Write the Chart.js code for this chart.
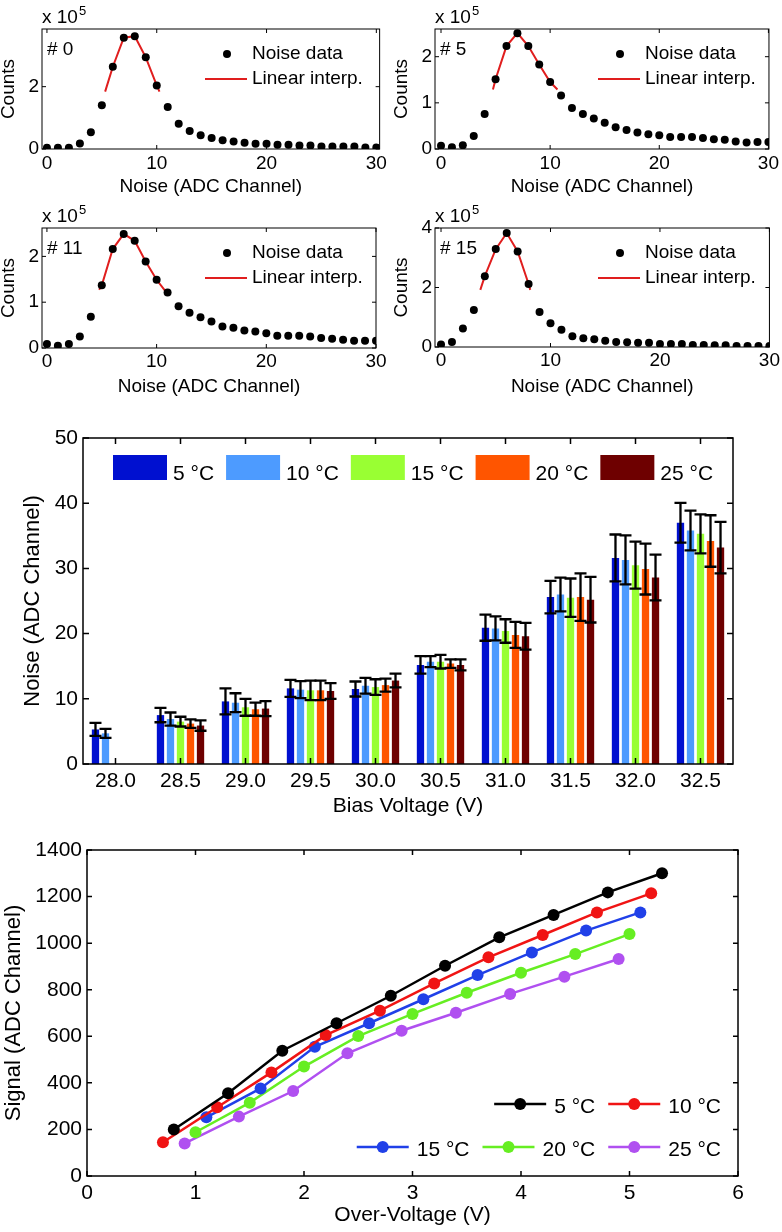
<!DOCTYPE html>
<html>
<head>
<meta charset="utf-8">
<title>SiPM noise and signal</title>
<script src="https://cdn.jsdelivr.net/npm/chart.js@4.4.1/dist/chart.umd.min.js"></script>
<style>
    html, body { margin: 0; padding: 0; background: #fff; }
    body { position: relative; width: 782px; height: 1232px; overflow: hidden; }
    .panel { position: absolute; }
</style>
</head>
<body>
<div class="panel" style="left:0px;top:0px;width:390px;height:198px"><canvas id="hist-0"></canvas></div>
<div class="panel" style="left:393px;top:0px;width:389px;height:198px"><canvas id="hist-5"></canvas></div>
<div class="panel" style="left:0px;top:198px;width:390px;height:202px"><canvas id="hist-11"></canvas></div>
<div class="panel" style="left:393px;top:198px;width:389px;height:202px"><canvas id="hist-15"></canvas></div>
<div class="panel" style="left:0px;top:420px;width:782px;height:400px"><canvas id="noise-chart"></canvas></div>
<div class="panel" style="left:0px;top:820px;width:782px;height:412px"><canvas id="signal-chart"></canvas></div>
<script>
const FONT = '"Liberation Sans", Arial, Helvetica, sans-serif';
Chart.defaults.font.family = FONT;
Chart.defaults.color = '#000';
Chart.defaults.animation = false;

// noise histograms (counts in units of 10^5)
const channels = [0, 1, 2, 3, 4, 5, 6, 7, 8, 9, 10, 11, 12, 13, 14, 15, 16, 17, 18, 19, 20, 21, 22, 23, 24, 25, 26, 27, 28, 29, 30];
const counts0 = [0.04, 0.04, 0.04, 0.18, 0.54, 1.40, 2.64, 3.57, 3.62, 2.94, 2.04, 1.35, 0.81, 0.58, 0.44, 0.35, 0.28, 0.24, 0.20, 0.17, 0.17, 0.14, 0.14, 0.11, 0.11, 0.08, 0.08, 0.08, 0.08, 0.05, 0.05];
const counts5 = [0.07, 0.04, 0.08, 0.28, 0.76, 1.51, 2.23, 2.51, 2.23, 1.83, 1.45, 1.16, 0.89, 0.76, 0.66, 0.57, 0.47, 0.41, 0.36, 0.32, 0.30, 0.26, 0.26, 0.26, 0.24, 0.21, 0.20, 0.16, 0.14, 0.15, 0.15];
const counts11 = [0.09, 0.05, 0.09, 0.25, 0.68, 1.37, 2.16, 2.49, 2.34, 1.89, 1.49, 1.21, 0.91, 0.77, 0.67, 0.58, 0.47, 0.44, 0.38, 0.36, 0.32, 0.27, 0.27, 0.27, 0.25, 0.22, 0.20, 0.18, 0.16, 0.16, 0.16];
const counts15 = [0.08, 0.17, 0.62, 1.24, 2.38, 3.29, 3.83, 3.21, 2.12, 1.18, 0.80, 0.58, 0.36, 0.29, 0.26, 0.21, 0.17, 0.16, 0.14, 0.14, 0.10, 0.10, 0.10, 0.07, 0.07, 0.06, 0.06, 0.03, 0.03, 0.03, 0.03];

// linear interpolation around the peak
const interpX0 = [5.3, 6, 7, 8, 9, 10, 10.25];
const interpY0 = [1.84, 2.64, 3.57, 3.62, 2.94, 2.04, 1.84];
const interpX5 = [4.76, 5, 6, 7, 8, 9, 10, 10.67];
const interpY5 = [1.29, 1.51, 2.23, 2.51, 2.23, 1.83, 1.45, 1.29];
const interpX11 = [4.76, 5, 6, 7, 8, 9, 10, 10.8];
const interpY11 = [1.27, 1.37, 2.16, 2.49, 2.34, 1.89, 1.49, 1.24];
const interpX15 = [3.59, 4, 5, 6, 7, 8, 8.15];
const interpY15 = [1.92, 2.38, 3.29, 3.83, 3.21, 2.12, 1.92];

// noise vs bias voltage (mean and error)
const biasLabels = ['28.0', '28.5', '29.0', '29.5', '30.0', '30.5', '31.0', '31.5', '32.0', '32.5'];
const tempLabels = ['5 °C', '10 °C', '15 °C', '20 °C', '25 °C'];
const noise5 = [5.3, 7.5, 9.6, 11.6, 11.5, 15.2, 20.9, 25.6, 31.6, 37.0];
const err5 = [1.0, 1.1, 2.0, 1.3, 1.15, 1.35, 2.0, 2.5, 3.6, 3.05];
const noise10 = [4.7, 6.9, 9.4, 11.4, 12.0, 15.7, 20.8, 26.0, 31.3, 35.8];
const err10 = [0.7, 1.0, 1.45, 1.3, 1.2, 0.85, 1.85, 2.6, 3.75, 3.05];
const noise15 = [null, 6.5, 8.7, 11.3, 11.8, 15.7, 20.4, 25.5, 30.5, 35.3];
const err15 = [null, 0.75, 1.3, 1.5, 1.2, 1.05, 1.8, 2.95, 3.6, 3.0];
const noise20 = [null, 6.2, 8.4, 11.3, 12.1, 15.4, 19.8, 25.6, 29.9, 34.2];
const err20 = [null, 0.65, 1.0, 1.5, 1.0, 0.65, 2.0, 3.65, 3.9, 3.95];
const noise25 = [null, 5.9, 8.5, 11.2, 12.8, 15.2, 19.6, 25.2, 28.6, 33.2];
const err25 = [null, 0.8, 1.15, 1.2, 1.05, 0.85, 2.05, 3.5, 3.5, 3.95];

// signal vs over-voltage
const ov5 = [0.8, 1.3, 1.8, 2.3, 2.8, 3.3, 3.8, 4.3, 4.8, 5.3];
const sig5 = [200, 355, 538, 656, 774, 903, 1025, 1121, 1218, 1300];
const ov10 = [0.7, 1.2, 1.7, 2.2, 2.7, 3.2, 3.7, 4.2, 4.7, 5.2];
const sig10 = [145, 295, 445, 605, 710, 827, 939, 1035, 1132, 1214];
const ov15 = [1.1, 1.6, 2.1, 2.6, 3.1, 3.6, 4.1, 4.6, 5.1];
const sig15 = [252, 376, 555, 656, 759, 863, 960, 1054, 1132];
const ov20 = [1.0, 1.5, 2.0, 2.5, 3.0, 3.5, 4.0, 4.5, 5.0];
const sig20 = [188, 315, 470, 601, 696, 787, 873, 953, 1039];
const ov25 = [0.9, 1.4, 1.9, 2.4, 2.9, 3.4, 3.9, 4.4, 4.9];
const sig25 = [140, 255, 365, 527, 624, 701, 782, 856, 932];

const barColors = ['#0010d0', '#4d9bff', '#99ff33', '#ff5500', '#6e0000'];
const lineColors = ['#000000', '#f01414', '#2040e8', '#66ee22', '#b050f0'];
const RED = '#e01e1e';

const toPoints = (xs, ys) => xs.map((x, i) => ({ x: x, y: ys[i] }));
const plainTick = v => String(v);

// box around the plot with inward ticks on all four sides
const frame = {
    id: 'frame',
    defaults: { len: 5, width: 1 },
    afterDraw(chart, args, opts) {
        const { ctx, chartArea: a, scales } = chart;
        const len = opts.len;
        ctx.save();
        ctx.strokeStyle = '#000';
        ctx.lineWidth = opts.width;
        ctx.strokeRect(a.left, a.top, a.right - a.left, a.bottom - a.top);
        ctx.beginPath();
        scales.x.ticks.forEach((t, i) => {
            const p = scales.x.getPixelForTick(i);
            ctx.moveTo(p, a.bottom); ctx.lineTo(p, a.bottom - len);
            ctx.moveTo(p, a.top); ctx.lineTo(p, a.top + len);
        });
        scales.y.ticks.forEach((t, i) => {
            const p = scales.y.getPixelForTick(i);
            ctx.moveTo(a.left, p); ctx.lineTo(a.left + len, p);
            ctx.moveTo(a.right, p); ctx.lineTo(a.right - len, p);
        });
        ctx.stroke();
        ctx.restore();
    }
};

// error bars for bar datasets that carry an "errors" array
const errorBars = {
    id: 'errorBars',
    defaults: { width: 2.2, cap: 12 },
    afterDatasetsDraw(chart, args, opts) {
        const { ctx } = chart;
        const yScale = chart.scales.y;
        ctx.save();
        ctx.strokeStyle = '#000';
        ctx.lineWidth = opts.width;
        chart.data.datasets.forEach((ds, di) => {
            if (!ds.errors) return;
            const meta = chart.getDatasetMeta(di);
            meta.data.forEach((bar, i) => {
                const v = ds.data[i];
                const e = ds.errors[i];
                if (v == null || e == null) return;
                const top = yScale.getPixelForValue(v + e);
                const bot = yScale.getPixelForValue(v - e);
                const h = opts.cap / 2;
                ctx.beginPath();
                ctx.moveTo(bar.x, top); ctx.lineTo(bar.x, bot);
                ctx.moveTo(bar.x - h, top); ctx.lineTo(bar.x + h, top);
                ctx.moveTo(bar.x - h, bot); ctx.lineTo(bar.x + h, bot);
                ctx.stroke();
            });
        });
        ctx.restore();
    }
};

Chart.register(frame, errorBars);

// exponent, panel tag and legend of the histogram panels
const histNote = {
    id: 'histNote',
    afterDraw(chart, args, opts) {
        const { ctx, chartArea: a } = chart;
        const ds = chart.data.datasets;
        ctx.save();
        ctx.fillStyle = '#000';
        ctx.textBaseline = 'middle';
        ctx.font = '19px ' + FONT;
        ctx.fillText('x 10', a.left, a.top - 11);
        const w = ctx.measureText('x 10').width;
        ctx.fillText(opts.tag, a.left + 5, a.top + 21);
        ctx.fillText(ds[0].label, a.left + 210, a.top + 25);
        ctx.fillText(ds[1].label, a.left + 210, a.top + 50);
        ctx.font = '13px ' + FONT;
        ctx.fillText('5', a.left + w + 1, a.top - 18);

        ctx.beginPath();
        ctx.arc(a.left + 185, a.top + 25, 4, 0, Math.PI * 2);
        ctx.fill();
        ctx.strokeStyle = ds[1].borderColor;
        ctx.lineWidth = 2;
        ctx.beginPath();
        ctx.moveTo(a.left + 163, a.top + 50);
        ctx.lineTo(a.left + 205, a.top + 50);
        ctx.stroke();
        ctx.restore();
    }
};

function makeHistChart(canvasId, tag, counts, interpX, interpY, xr, yr, box) {
    return new Chart(document.getElementById(canvasId), {
        type: 'scatter',
        data: {
            datasets: [{
                label: 'Noise data',
                data: toPoints(channels, counts),
                pointRadius: 4,
                pointBorderWidth: 0,
                backgroundColor: '#000',
                borderColor: '#000',
                order: 0
            }, {
                label: 'Linear interp.',
                data: toPoints(interpX, interpY),
                showLine: true,
                pointRadius: 0,
                borderColor: RED,
                borderWidth: 2,
                order: 1
            }]
        },
        options: {
            responsive: true,
            maintainAspectRatio: false,
            layout: { padding: { top: box.top, right: box.right, left: 0, bottom: 0 } },
            plugins: {
                legend: { display: false },
                tooltip: { enabled: false },
                histNote: { tag: tag },
                frame: { len: 4, width: 1 }
            },
            scales: {
                x: {
                    type: 'linear',
                    min: xr[0], max: xr[1],
                    grid: { display: false, drawTicks: false },
                    border: { display: false },
                    ticks: { stepSize: 10, includeBounds: false, padding: box.tickPad, maxRotation: 0, font: { size: 19 }, callback: plainTick },
                    title: { display: true, text: 'Noise (ADC Channel)', font: { size: 19 }, padding: { top: 0, bottom: box.titlePad } },
                    afterFit: s => { s.height = box.xh; }
                },
                y: {
                    min: yr[0], max: yr[1],
                    grid: { display: false, drawTicks: false },
                    border: { display: false },
                    ticks: { stepSize: yr[2], includeBounds: false, padding: 3, font: { size: 19 }, callback: plainTick },
                    title: { display: true, text: 'Counts', font: { size: 19, lineHeight: 0.9 }, padding: { top: 0, bottom: 0 } },
                    afterFit: s => { s.width = 42; }
                }
            }
        },
        plugins: [histNote]
    });
}

// 1. histograms
makeHistChart('hist-0', '# 0', counts0, interpX0, interpY0, [-0.45, 30.3], [0, 3.85, 2],
    { top: 29, right: 10, xh: 49, tickPad: 3, titlePad: 0 });
makeHistChart('hist-5', '# 5', counts5, interpX5, interpY5, [-0.55, 30.05], [0, 2.6, 1],
    { top: 29, right: 12, xh: 49, tickPad: 3, titlePad: 0 });
makeHistChart('hist-11', '# 11', counts11, interpX11, interpY11, [-0.45, 30], [0, 2.62, 1],
    { top: 30, right: 14, xh: 52, tickPad: 2, titlePad: 2 });
makeHistChart('hist-15', '# 15', counts15, interpX15, interpY15, [-0.55, 30], [0, 4, 2],
    { top: 30, right: 12, xh: 53, tickPad: 2, titlePad: 2 });

// 2. noise vs bias voltage
const barLegend = {
    id: 'barLegend',
    afterDraw(chart) {
        const { ctx, chartArea: a } = chart;
        ctx.save();
        ctx.font = '21px ' + FONT;
        ctx.textBaseline = 'middle';
        let x = a.left + 30;
        const y = a.top + 17;
        chart.data.datasets.forEach(ds => {
            ctx.fillStyle = ds.backgroundColor;
            ctx.fillRect(x, y, 54, 25);
            ctx.fillStyle = '#000';
            ctx.fillText(ds.label, x + 60, y + 19);
            x += 54 + 5 + ctx.measureText(ds.label).width + 13;
        });
        ctx.restore();
    }
};

const noiseSets = [noise5, noise10, noise15, noise20, noise25];
const errSets = [err5, err10, err15, err20, err25];

new Chart(document.getElementById('noise-chart'), {
    type: 'bar',
    data: {
        labels: biasLabels,
        datasets: tempLabels.map((t, i) => ({
            label: t,
            data: noiseSets[i],
            errors: errSets[i],
            backgroundColor: barColors[i],
            borderWidth: 0,
            categoryPercentage: 0.77,
            barPercentage: 0.73
        }))
    },
    options: {
        responsive: true,
        maintainAspectRatio: false,
        layout: { padding: { top: 18, right: 49, left: 0, bottom: 0 } },
        plugins: {
            legend: { display: false },
            tooltip: { enabled: false },
            frame: { len: 6, width: 1.5 },
            errorBars: { width: 2.3, cap: 12 }
        },
        scales: {
            x: {
                grid: { display: false, drawTicks: false },
                border: { display: false },
                ticks: { padding: 5, maxRotation: 0, font: { size: 21 } },
                title: { display: true, text: 'Bias Voltage (V)', font: { size: 21 }, padding: { top: 0, bottom: 1 } },
                afterFit: s => { s.height = 56; }
            },
            y: {
                min: 0, max: 50,
                grid: { display: false, drawTicks: false },
                border: { display: false },
                ticks: { stepSize: 10, padding: 5, font: { size: 21 }, callback: plainTick },
                title: { display: true, text: 'Noise (ADC Channel)', font: { size: 22 }, padding: { top: 20, bottom: 0 } },
                afterFit: s => { s.width = 83; }
            }
        }
    },
    plugins: [barLegend]
});

// 3. signal vs over-voltage
const lineLegend = {
    id: 'lineLegend',
    afterDraw(chart) {
        const { ctx, chartArea: a } = chart;
        const ds = chart.data.datasets;
        const rows = [[0, 1], [2, 3, 4]];
        const rowY = [a.top + 254, a.top + 297];
        const right = a.right - 17;
        ctx.save();
        ctx.font = '21px ' + FONT;
        ctx.textBaseline = 'middle';
        rows.forEach((row, r) => {
            const widths = row.map(i => 52 + 8 + ctx.measureText(ds[i].label).width);
            let x = right - widths.reduce((s, w) => s + w, 0) - 13 * (row.length - 1);
            const y = rowY[r];
            row.forEach((i, k) => {
                ctx.strokeStyle = ds[i].borderColor;
                ctx.fillStyle = ds[i].borderColor;
                ctx.lineWidth = 2.5;
                ctx.beginPath();
                ctx.moveTo(x, y); ctx.lineTo(x + 52, y);
                ctx.stroke();
                ctx.beginPath();
                ctx.arc(x + 26, y, 6, 0, Math.PI * 2);
                ctx.fill();
                ctx.fillStyle = '#000';
                ctx.fillText(ds[i].label, x + 60, y + 3);
                x += widths[k] + 13;
            });
        });
        ctx.restore();
    }
};

const ovSets = [ov5, ov10, ov15, ov20, ov25];
const sigSets = [sig5, sig10, sig15, sig20, sig25];

new Chart(document.getElementById('signal-chart'), {
    type: 'line',
    data: {
        datasets: tempLabels.map((t, i) => ({
            label: t,
            data: toPoints(ovSets[i], sigSets[i]),
            borderColor: lineColors[i],
            backgroundColor: lineColors[i],
            pointBackgroundColor: lineColors[i],
            pointBorderColor: lineColors[i],
            borderWidth: 2.5,
            pointRadius: 6,
            pointBorderWidth: 0,
            fill: false,
            tension: 0
        }))
    },
    options: {
        responsive: true,
        maintainAspectRatio: false,
        layout: { padding: { top: 30, right: 44, left: 0, bottom: 0 } },
        plugins: {
            legend: { display: false },
            tooltip: { enabled: false },
            frame: { len: 5, width: 1.5 }
        },
        scales: {
            x: {
                type: 'linear',
                min: 0, max: 6,
                grid: { display: false, drawTicks: false },
                border: { display: false },
                ticks: { stepSize: 1, padding: 5, maxRotation: 0, font: { size: 21 }, callback: plainTick },
                title: { display: true, text: 'Over-Voltage (V)', font: { size: 21 }, padding: { top: 0, bottom: 4 } },
                afterFit: s => { s.height = 56; }
            },
            y: {
                min: 0, max: 1400,
                grid: { display: false, drawTicks: false },
                border: { display: false },
                ticks: { stepSize: 200, padding: 5, font: { size: 21 }, callback: plainTick },
                title: { display: true, text: 'Signal (ADC Channel)', font: { size: 22 }, padding: { top: 1, bottom: 0 } },
                afterFit: s => { s.width = 87; }
            }
        }
    },
    plugins: [lineLegend]
});
</script>
</body>
</html>
